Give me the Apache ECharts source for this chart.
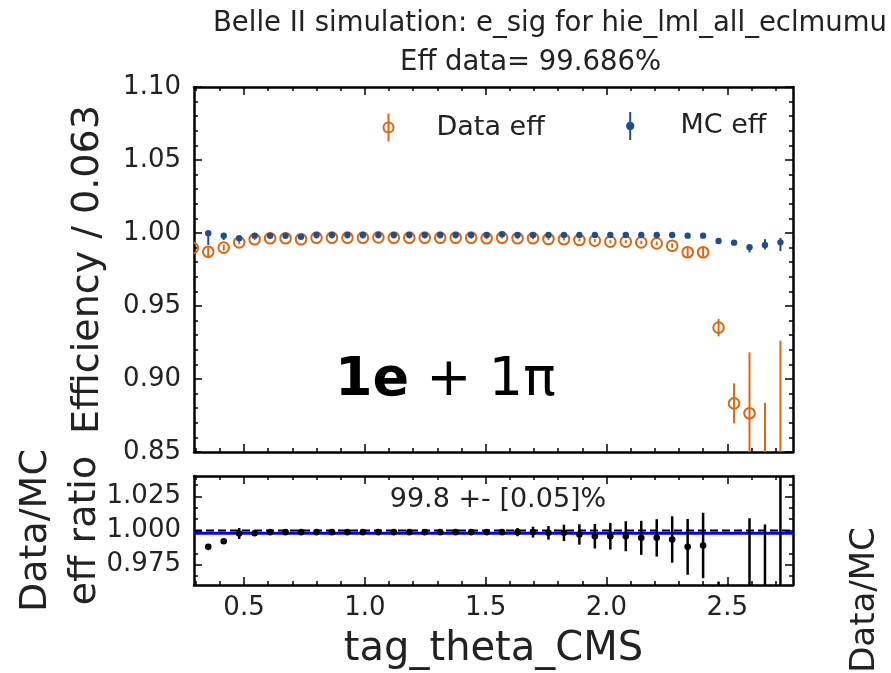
<!DOCTYPE html>
<html>
<head>
<meta charset="utf-8">
<script src="https://cdn.jsdelivr.net/npm/echarts@6/dist/echarts.min.js"></script>
<style>
  html, body { margin: 0; padding: 0; background: #fff; }
  #main { width: 891px; height: 673px; }
</style>
</head>
<body>
<div id="main"></div>
<script>
// bin centres of tag_theta_CMS (first one sits just left of the frame)
const binX = [0.288, 0.352, 0.416, 0.480, 0.544, 0.608, 0.672, 0.736, 0.800, 0.864,
  0.928, 0.992, 1.056, 1.120, 1.184, 1.248, 1.312, 1.376, 1.440, 1.504,
  1.568, 1.632, 1.696, 1.760, 1.824, 1.888, 1.952, 2.016, 2.080, 2.144,
  2.208, 2.272, 2.336, 2.400, 2.464, 2.528, 2.592, 2.656, 2.720];

// data efficiency
const dataEff = [0.9897, 0.9872, 0.9900, 0.9936, 0.9957, 0.9964, 0.9964, 0.9957, 0.9968, 0.9968,
  0.9968, 0.9968, 0.9970, 0.9968, 0.9968, 0.9968, 0.9968, 0.9968, 0.9968, 0.9964,
  0.9968, 0.9964, 0.9964, 0.9959, 0.9957, 0.9952, 0.9948, 0.9941, 0.9941, 0.9936,
  0.9929, 0.9913, 0.9868, 0.9868, 0.9352, 0.8833, 0.8765, 0.7500, 0.7500];
const dataErr = [0.003, 0.003, 0.002, 0.0012, 0.0006, 0.0006, 0.0006, 0.0006, 0.0006, 0.0006,
  0.0006, 0.0006, 0.0006, 0.0006, 0.0006, 0.0006, 0.0006, 0.0006, 0.0006, 0.0006,
  0.0006, 0.0007, 0.0007, 0.0008, 0.0008, 0.0009, 0.001, 0.001, 0.001, 0.0011,
  0.0012, 0.0015, 0.003, 0.003, 0.006, 0.0137, 0.0418, 0.1338, 0.1762];

// MC efficiency (asymmetric errors)
const mcEff = [null, 0.9998, 0.9982, 0.9964, 0.9982, 0.9982, 0.9982, 0.9975, 0.9986, 0.9986,
  0.9986, 0.9986, 0.9986, 0.9986, 0.9986, 0.9986, 0.9986, 0.9986, 0.9986, 0.9986,
  0.9991, 0.9986, 0.9986, 0.9986, 0.9986, 0.9986, 0.9986, 0.9986, 0.9986, 0.9986,
  0.9986, 0.9986, 0.9982, 0.9982, 0.9945, 0.9934, 0.9902, 0.9918, 0.9936];
const mcErrLo = [null, 0.008, 0.003, 0.002, 0.0005, 0.0005, 0.0005, 0.0005, 0.0005, 0.0005,
  0.0005, 0.0005, 0.0005, 0.0005, 0.0005, 0.0005, 0.0005, 0.0005, 0.0005, 0.0005,
  0.0005, 0.0005, 0.0005, 0.0005, 0.0005, 0.0005, 0.0005, 0.0005, 0.0005, 0.0005,
  0.0005, 0.0005, 0.0005, 0.0005, 0.0012, 0.0015, 0.0035, 0.003, 0.006];
const mcErrHi = [null, 0.0002, 0.0005, 0.0008, 0.0004, 0.0004, 0.0004, 0.0004, 0.0004, 0.0004,
  0.0004, 0.0004, 0.0004, 0.0004, 0.0004, 0.0004, 0.0004, 0.0004, 0.0004, 0.0004,
  0.0004, 0.0004, 0.0004, 0.0004, 0.0004, 0.0004, 0.0004, 0.0004, 0.0004, 0.0004,
  0.0004, 0.0004, 0.0004, 0.0004, 0.001, 0.0012, 0.0015, 0.004, 0.003];

// Data/MC ratio
const ratio = [null, 0.9880, 0.9921, 0.9978, 0.9980, 0.9988, 0.9988, 0.9988, 0.9988, 0.9988,
  0.9988, 0.9988, 0.9988, 0.9988, 0.9988, 0.9988, 0.9988, 0.9988, 0.9988, 0.9988,
  0.9988, 0.9988, 0.9988, 0.9983, 0.9983, 0.9971, 0.9958, 0.9958, 0.9958, 0.9946,
  0.9946, 0.9934, 0.9880, 0.9890, 0.9400, 0.8890, 0.8850, 0.8000, 0.8500];
const ratioErr = [null, 0.0015, 0.0012, 0.004, 0.002, 0.0012, 0.0012, 0.0012, 0.0012, 0.0012,
  0.0012, 0.0012, 0.0012, 0.0012, 0.0012, 0.0012, 0.0012, 0.0012, 0.0012, 0.0015,
  0.002, 0.003, 0.004, 0.005, 0.006, 0.0075, 0.009, 0.0098, 0.011, 0.0125,
  0.0137, 0.017, 0.0205, 0.024, 0.0225, 0.02, 0.124, 0.2044, 0.25];

const ratioMean = 0.998;   // blue line
const ratioUnity = 1.0;    // dashed line

const xTicks = [0.5, 1.0, 1.5, 2.0, 2.5];
const xMinorTicks = [0.3, 0.4, 0.6, 0.7, 0.8, 0.9, 1.1, 1.2, 1.3, 1.4, 1.6, 1.7, 1.8, 1.9,
  2.1, 2.2, 2.3, 2.4, 2.6, 2.7];
const ratioTicks = [0.975, 1.0, 1.025];
const ratioMinorTicks = [0.9667, 0.9833, 1.0083, 1.0167, 1.0333];

const XMIN = 0.293, XMAX = 2.772;
const ORANGE = '#e0650e', BLUE = '#1f4e8f';
const FONT = 'DejaVu Sans';
const TXT = '#222';

function errBar(kind, color, lw, r) {
  return function (params, api) {
    const x = api.value(0);
    const c = api.coord([x, api.value(1)]);
    const a = api.coord([x, api.value(2)]);
    const b = api.coord([x, api.value(3)]);
    const kids = [{
      type: 'line',
      shape: { x1: a[0], y1: a[1], x2: b[0], y2: b[1] },
      style: { stroke: color, lineWidth: lw }
    }];
    if (kind === 'open') {
      kids.push({ type: 'circle', shape: { cx: c[0], cy: c[1], r: r },
        style: { fill: 'none', stroke: color, lineWidth: 2 } });
    } else {
      kids.push({ type: 'circle', shape: { cx: c[0], cy: c[1], r: r },
        style: { fill: color } });
    }
    return { type: 'group', children: kids };
  };
}

let dataPts = [], mcPts = [], ratioPts = [];
for (let i = 0; i < binX.length; i++) {
  dataPts.push([binX[i], dataEff[i], dataEff[i] - dataErr[i], dataEff[i] + dataErr[i]]);
  if (mcEff[i] !== null) {
    mcPts.push([binX[i], mcEff[i], mcEff[i] - mcErrLo[i], mcEff[i] + mcErrHi[i]]);
  }
  if (ratio[i] !== null) {
    ratioPts.push([binX[i], ratio[i], ratio[i] - ratioErr[i], ratio[i] + ratioErr[i]]);
  }
}

const frame = { show: true, onZero: false, lineStyle: { color: '#000', width: 2.5 } };
const noLine = { show: false, onZero: false };

function xAx(grid, pos, ticks, len, line, labels) {
  return {
    type: 'value', gridIndex: grid, position: pos, min: XMIN, max: XMAX,
    axisLine: line ? frame : noLine,
    axisTick: { show: true, inside: true, length: len, customValues: ticks,
      lineStyle: { color: '#000', width: 1.5 } },
    axisLabel: labels ? {
      show: true, customValues: ticks, color: TXT, fontFamily: FONT, fontSize: 26, margin: 10,
      formatter: v => v.toFixed(1)
    } : { show: false, customValues: ticks },
    splitLine: { show: false }
  };
}

const myChart = echarts.init(document.getElementById('main'), null, { renderer: 'canvas' });

const option = {
  backgroundColor: '#fff',
  animation: false,
  grid: [
    { left: 194, top: 87, width: 599, height: 365, outerBoundsMode: 'none' },
    { left: 194, top: 476, width: 599, height: 109, outerBoundsMode: 'none' }
  ],
  xAxis: [
    xAx(0, 'bottom', xTicks, 8, true, false),
    xAx(0, 'bottom', xMinorTicks, 4, false, false),
    xAx(0, 'top', xTicks, 8, true, false),
    xAx(0, 'top', xMinorTicks, 4, false, false),
    Object.assign(xAx(1, 'bottom', xTicks, 8, true, true), {
      name: 'tag_theta_CMS', nameLocation: 'middle', nameGap: 45,
      nameTextStyle: { color: TXT, fontFamily: FONT, fontSize: 40 }
    }),
    xAx(1, 'bottom', xMinorTicks, 4, false, false),
    xAx(1, 'top', xTicks, 8, true, false),
    xAx(1, 'top', xMinorTicks, 4, false, false)
  ],
  yAxis: [
    {
      type: 'value', gridIndex: 0, position: 'left', min: 0.85, max: 1.10, interval: 0.05,
      axisLine: frame,
      axisTick: { inside: true, length: 8, lineStyle: { color: '#000', width: 1.5 } },
      minorTick: { show: true, splitNumber: 5, length: 4, lineStyle: { color: '#000', width: 1.5 } },
      axisLabel: { color: TXT, fontFamily: FONT, fontSize: 26, margin: 13, formatter: v => v.toFixed(2) },
      splitLine: { show: false },
      name: 'Efficiency / 0.063', nameLocation: 'middle', nameGap: 87,
      nameTextStyle: { color: TXT, fontFamily: FONT, fontSize: 38 }
    },
    {
      type: 'value', gridIndex: 0, position: 'right', min: 0.85, max: 1.10, interval: 0.05,
      axisLine: frame,
      axisTick: { inside: true, length: 8, lineStyle: { color: '#000', width: 1.5 } },
      minorTick: { show: true, splitNumber: 5, length: 4, lineStyle: { color: '#000', width: 1.5 } },
      axisLabel: { show: false }, splitLine: { show: false }
    },
    {
      type: 'value', gridIndex: 1, position: 'left', min: 0.96, max: 1.04,
      axisLine: frame,
      axisTick: { inside: true, length: 8, customValues: ratioTicks, lineStyle: { color: '#000', width: 1.5 } },
      axisLabel: { customValues: ratioTicks, color: TXT, fontFamily: FONT, fontSize: 26, margin: 13,
        formatter: v => v.toFixed(3) },
      splitLine: { show: false },
      name: 'Data/MC\neff ratio', nameLocation: 'middle', nameGap: 84, nameMoveOverlap: false,
      nameTextStyle: { color: TXT, fontFamily: FONT, fontSize: 38, lineHeight: 49 }
    },
    {
      type: 'value', gridIndex: 1, position: 'left', min: 0.96, max: 1.04,
      axisLine: noLine,
      axisTick: { inside: true, length: 4, customValues: ratioMinorTicks, lineStyle: { color: '#000', width: 1.5 } },
      axisLabel: { show: false, customValues: ratioMinorTicks }, splitLine: { show: false }
    },
    {
      type: 'value', gridIndex: 1, position: 'right', min: 0.96, max: 1.04,
      axisLine: frame,
      axisTick: { inside: true, length: 8, customValues: ratioTicks, lineStyle: { color: '#000', width: 1.5 } },
      axisLabel: { show: false, customValues: ratioTicks }, splitLine: { show: false }
    },
    {
      type: 'value', gridIndex: 1, position: 'right', min: 0.96, max: 1.04,
      axisLine: noLine,
      axisTick: { inside: true, length: 4, customValues: ratioMinorTicks, lineStyle: { color: '#000', width: 1.5 } },
      axisLabel: { show: false, customValues: ratioMinorTicks }, splitLine: { show: false }
    }
  ],
  legend: [
    {
      data: [{ name: 'Data eff', icon: 'path://M0,-14L0,14M-5,0A5,5,0,1,0,5,0A5,5,0,1,0,-5,0Z',
        itemStyle: { color: 'none', borderColor: ORANGE, borderWidth: 2 } }],
      left: 381, top: 111, padding: 0, itemWidth: 10, itemHeight: 28,
      textStyle: { color: TXT, fontFamily: FONT, fontSize: 27, padding: [0, 0, 0, 38] }
    },
    {
      data: [{ name: 'MC eff', icon: 'path://M0,-14L0,14M-3.2,0A3.2,3.2,0,1,0,3.2,0A3.2,3.2,0,1,0,-3.2,0Z',
        itemStyle: { color: BLUE, borderColor: BLUE, borderWidth: 2 } }],
      left: 626, top: 111, padding: 0, itemWidth: 6.4, itemHeight: 28,
      textStyle: { color: TXT, fontFamily: FONT, fontSize: 27, padding: [0, 0, 0, 42] }
    }
  ],
  graphic: [
    { type: 'text', x: 213, y: 24, style: { text: 'Belle II simulation: e_sig for hie_lml_all_eclmumu',
      fill: TXT, font: '27.5px "DejaVu Sans"', verticalAlign: 'middle' } },
    { type: 'text', x: 400, y: 63, style: { text: 'Eff data= 99.686%',
      fill: TXT, font: '27.5px "DejaVu Sans"', verticalAlign: 'middle' } },
    { type: 'text', x: 335, y: 381, style: {
      text: '{b|1e} + 1π', fill: '#000', font: '54px "DejaVu Sans"', verticalAlign: 'middle',
      rich: { b: { fontWeight: 'bold', fontSize: 54, fontFamily: FONT, fill: '#000' } } } },
    { type: 'text', x: 498, y: 500, style: { text: '99.8 +- [0.05]%',
      fill: TXT, font: '27px "DejaVu Sans"', align: 'center', verticalAlign: 'middle' } },
    { type: 'text', x: 865, y: 600, rotation: Math.PI / 2, style: { text: 'Data/MC',
      fill: TXT, font: '34px "DejaVu Sans"', align: 'center', verticalAlign: 'middle' } }
  ],
  series: [
    {
      name: 'Data eff', type: 'custom', xAxisIndex: 0, yAxisIndex: 0, clip: true, z: 3,
      renderItem: errBar('open', ORANGE, 2, 5.3), encode: { x: 0, y: 1 }, data: dataPts
    },
    {
      name: 'MC eff', type: 'custom', xAxisIndex: 0, yAxisIndex: 0, clip: true, z: 4,
      renderItem: errBar('dot', BLUE, 2, 3.2), encode: { x: 0, y: 1 }, data: mcPts
    },
    {
      name: 'mean', type: 'line', xAxisIndex: 4, yAxisIndex: 2, z: 2, symbol: 'none', silent: true,
      lineStyle: { color: '#0000ff', width: 3 },
      data: [[XMIN, ratioMean], [XMAX, ratioMean]]
    },
    {
      name: 'unity', type: 'line', xAxisIndex: 4, yAxisIndex: 2, z: 3, symbol: 'none', silent: true,
      lineStyle: { color: '#000', width: 2, type: [8, 4] },
      data: [[XMIN, ratioUnity], [XMAX, ratioUnity]]
    },
    {
      name: 'ratio', type: 'custom', xAxisIndex: 4, yAxisIndex: 2, clip: true, z: 5,
      renderItem: errBar('dot', '#000', 2.5, 3.3), encode: { x: 0, y: 1 }, data: ratioPts
    }
  ]
};

myChart.setOption(option);
</script>
</body>
</html>
